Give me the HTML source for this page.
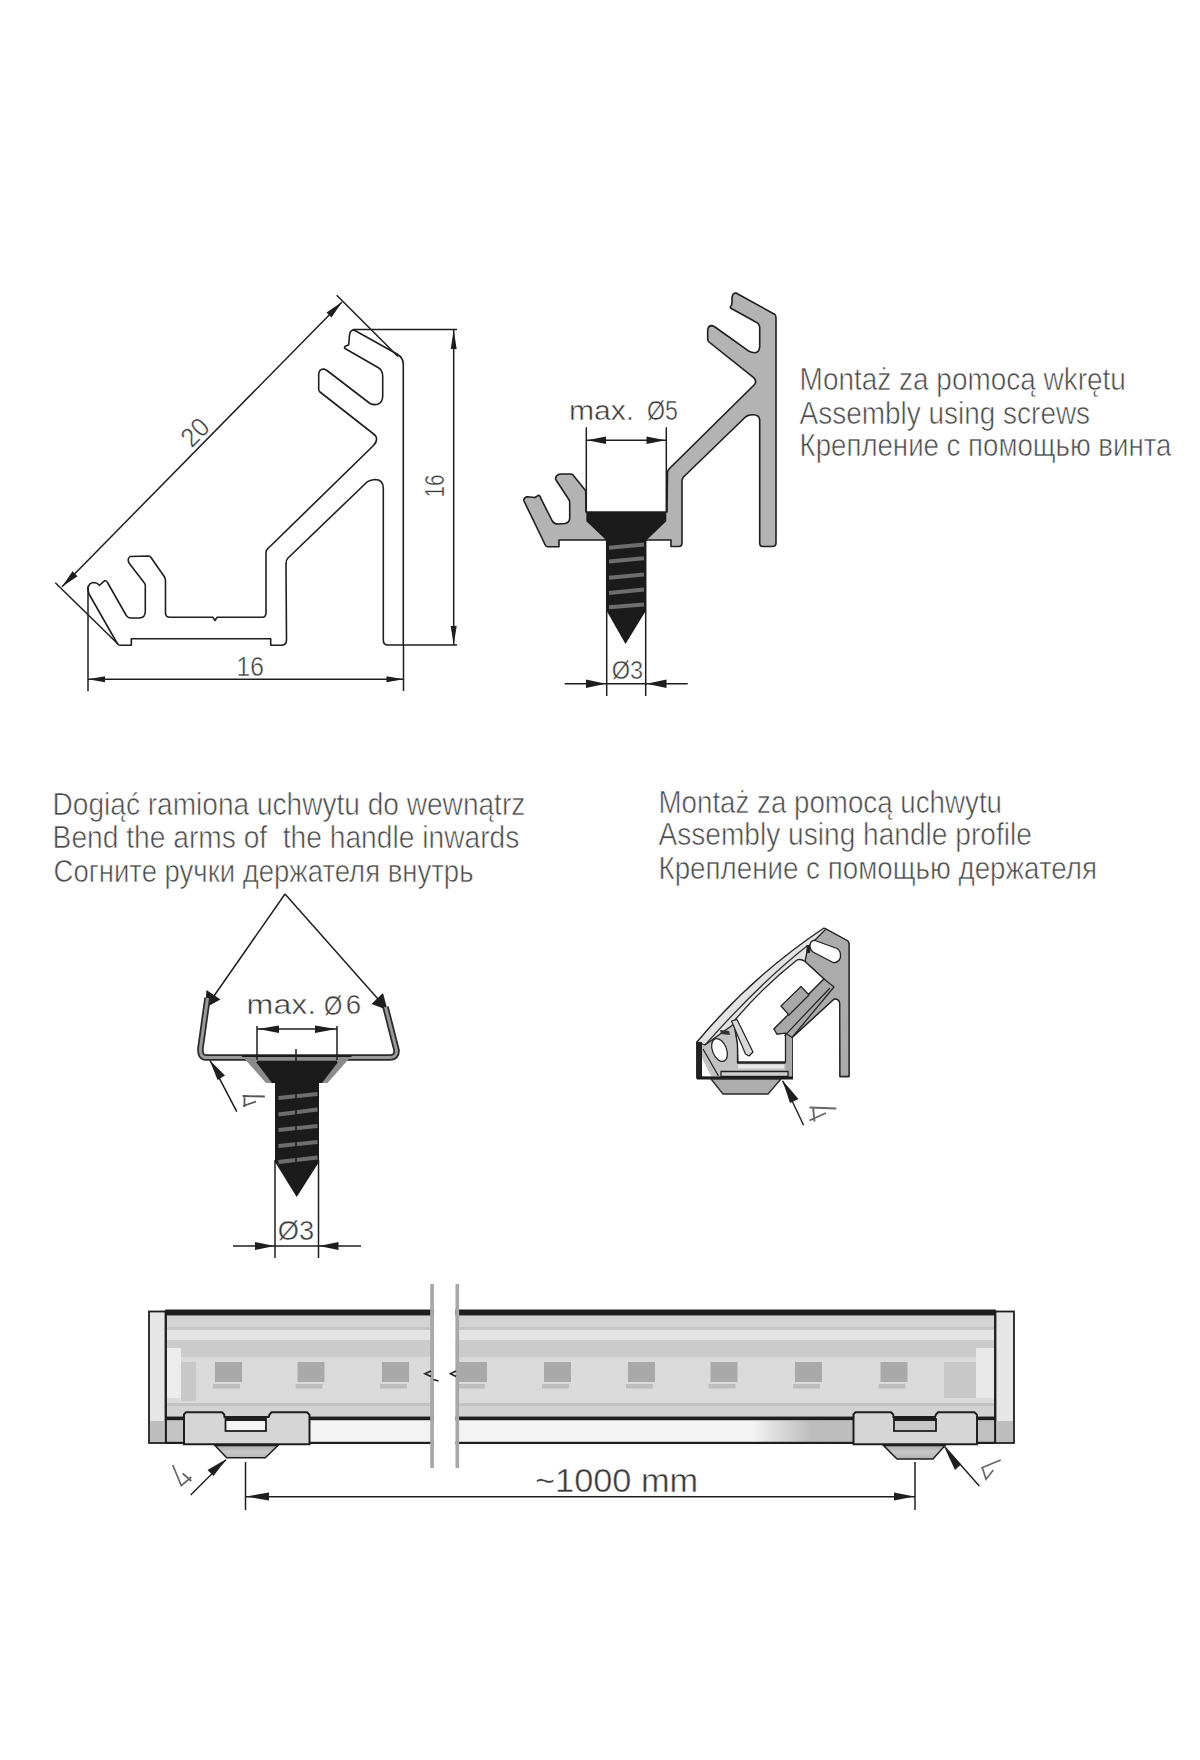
<!DOCTYPE html>
<html><head><meta charset="utf-8">
<style>
html,body{margin:0;padding:0;background:#fff;width:1200px;height:1760px;overflow:hidden}
svg{display:block}
.t{font-family:"Liberation Sans",sans-serif;fill:#4a4a4a;stroke:#fff;stroke-width:0.6px}
.ln{fill:none;stroke:#1e1e1e;stroke-width:1.6;stroke-linejoin:round;stroke-linecap:round}
.d{font-family:"Liberation Sans",sans-serif;fill:#3a3a3a;stroke:#fff;stroke-width:0.45px}
.dm{fill:none;stroke:#1e1e1e;stroke-width:1.5}
</style></head><body>
<svg width="1200" height="1760" viewBox="0 0 1200 1760">

<!-- DRAWING 1 -->
<g>
<path class="ln" d="M354,330 L397,354 Q403.3,358 403.3,364 L403.3,645 L388,645 Q383.3,645 383.3,640 L383.3,488 Q383,479.5 375,479.5 Q369,480 366,483 L288,558 Q286,560 286,564 L286.5,640 Q286.5,645.3 281,645.3 L270.7,645.3 L270.7,638.7 L131.3,638.7 L131.3,645.3 L120,645.3 Q118,645.3 117,643 L89,594 Q88,591 88,588 Q89,582.5 94,582.5 Q98,583 99.3,585.5 L104.7,580.7 Q106.5,580.5 107.5,582.5 L126,615 Q127.5,618 131,618 L139.3,618 Q145.3,618 145.3,611 L145.3,585 Q145,583.5 144,582.5 L129,563 Q127,559 130,556.5 L148.7,556 Q150,556 151,557.5 L164.7,577.3 Q165.5,579 165.5,581 L165.5,613 Q165.5,617.3 170,617.3 L213,617.3 L215,620.5 L217,617.3 L262.5,617.3 Q266,617.3 266,612 L266,552 Q266,550 268,548.5 L373,446 Q378,441 376,436.5 Q375,435 373,433.5 L320,392 Q318.7,391 318.7,389 L318.7,374 Q319,369 324,369 L327,370.5 L370,403.5 Q373,405 377,404.5 Q382.7,403 382.7,396 L382.7,376 Q382.5,370 378,367.5 L345,348.5 Q344,347.5 345,346.5 L348.7,344.7 L349.5,335 Q350,330 354,330 Z"/>
<!-- dim 20 -->
<line class="dm" x1="336.7" y1="295.3" x2="398" y2="356.5"/>
<line class="dm" x1="55.3" y1="582.7" x2="118" y2="644"/>
<line class="dm" x1="342" y1="302" x2="62" y2="586.7"/>
<path d="M342,302 L326.5,312.5 L331.5,317.5 Z M62,586.7 L77.5,576.2 L72.5,571.2 Z" fill="#1e1e1e"/>
<text class="d" font-size="27" transform="translate(194.5,431.7) rotate(-45)" text-anchor="middle" y="10" textLength="28" lengthAdjust="spacingAndGlyphs">20</text>
<!-- dim 16 vertical -->
<line class="dm" x1="352.7" y1="329.6" x2="457" y2="329.6"/>
<line class="dm" x1="403.3" y1="645" x2="457" y2="645"/>
<line class="dm" x1="453.7" y1="330" x2="453.7" y2="645"/>
<path d="M453.7,330 L450.7,349 L456.7,349 Z M453.7,645 L450.7,626 L456.7,626 Z" fill="#1e1e1e"/>
<text class="d" font-size="27" transform="translate(433.7,486) rotate(-90)" text-anchor="middle" y="10" textLength="23" lengthAdjust="spacingAndGlyphs">16</text>
<!-- dim 16 horizontal -->
<line class="dm" x1="88" y1="586" x2="88" y2="691.3"/>
<line class="dm" x1="403.5" y1="645" x2="403.5" y2="691"/>
<line class="dm" x1="88" y1="679.3" x2="403.5" y2="679.3"/>
<path d="M88,679.3 L105,676.3 L105,682.3 Z M403.5,679.3 L386.5,676.3 L386.5,682.3 Z" fill="#1e1e1e"/>
<text class="d" font-size="27" x="236.6" y="676" textLength="27.3" lengthAdjust="spacingAndGlyphs">16</text>
</g>

<!-- DRAWING 2 -->
<g>
<path fill="#b3b3b3" stroke="#1e1e1e" stroke-width="1.6" stroke-linejoin="round" d="M736,293 L775,314.5 Q776,315.5 776,318 L776,543 Q776,546.5 772,546.5 L763,546.5 Q759.7,546.5 759.7,543 L759.7,420 Q759.5,414.7 753,414.7 Q748,414.7 745.7,416.8 L683.5,477 Q682,479 682,481 L682,543 Q682,546.5 678.5,546.5 L671,546.5 L671,540 L559,540 L559,546.7 L547.5,546.7 Q546,546.5 545.5,545.5 L524,501 Q523,498 527,496.7 L535,497.5 L538.3,495.3 Q540,495 541,498.7 L552.3,521 Q554,524 558,524 L565,523.5 Q569.7,522.5 569.7,518 L569.7,502 Q569.5,500.5 568.5,499 L556,480 Q555,478 556.5,476 Q558,474 561,474 L571,474 Q572,474 573,475 L585.7,490.7 L586,512 L667,512 L667.5,472 Q668,470 669.5,468.5 L754.3,384.7 Q757,382 754.3,378.2 L709,342 Q707.7,341 707.7,339 L707.7,330 Q708,325.6 712,325.6 Q713.5,325.8 715,327 L748.8,351.1 Q751,352.7 755.3,352.7 Q759.7,352 759.7,346 L759.7,328 Q759.7,323.5 755.3,321.8 L730.5,308 L730.4,306.7 Q732,305 732,303 L732,297.5 Q732.5,293 736,293 Z"/>
<!-- screw -->
<path fill="#1b1b1b" d="M586.3,512 L666.3,512 L666.3,521.3 L648.3,538.5 L645.7,541 L645.7,611 L625.5,644 L606.7,611 L606.7,541 L604.5,538.5 L586.3,521.3 Z"/>
<g stroke="#6e6e6e" stroke-width="4">
<line x1="609" y1="547.8" x2="644" y2="544.5"/>
<line x1="609" y1="561.6" x2="644" y2="558.3"/>
<line x1="609" y1="577.8" x2="644" y2="574.4"/>
<line x1="609" y1="593" x2="644" y2="589.6"/>
<line x1="609" y1="607.2" x2="644" y2="604.4"/>
</g>
<!-- dim max 5 -->
<line class="dm" x1="586.3" y1="427.3" x2="586.3" y2="512"/>
<line class="dm" x1="666.3" y1="427.3" x2="666.3" y2="512"/>
<line class="dm" x1="586.3" y1="440.3" x2="666.3" y2="440.3"/>
<path d="M587,440.3 L606,436.5 L606,444 Z M665.5,440.3 L646.5,436.5 L646.5,444 Z" fill="#1e1e1e"/>
<text class="d" font-size="27" x="568.9" y="419.5" textLength="65.3" lengthAdjust="spacingAndGlyphs">max.</text><text class="d" font-size="27" x="646.9" y="419.5" textLength="30.9" lengthAdjust="spacingAndGlyphs">Ø5</text>
<!-- dim 3 -->
<line class="dm" x1="606.7" y1="540" x2="606.7" y2="696"/>
<line class="dm" x1="645.7" y1="540" x2="645.7" y2="696"/>
<line class="dm" x1="564.7" y1="683.7" x2="687.7" y2="683.7"/>
<path d="M606,683.7 L586,679.5 L586,688 Z M646.5,683.7 L666.5,679.5 L666.5,688 Z" fill="#1e1e1e"/>
<text class="d" font-size="26" x="611.7" y="678.5" textLength="31.4" lengthAdjust="spacingAndGlyphs">Ø3</text>
</g>

<!-- DRAWING 3 -->
<g>
<!-- apex dim lines -->
<line class="dm" x1="285" y1="894" x2="207" y2="1006" stroke-width="1.3"/>
<line class="dm" x1="285" y1="894" x2="386" y2="1008" stroke-width="1.3"/>
<path d="M205,1008 L206.5,990 L220.5,999.5 Z M387.5,1010 L383,993 L371.5,1004 Z" fill="#1e1e1e"/>
<!-- handle arms -->
<path d="M207.5,998 L200.5,1048 Q199.7,1057.5 206,1057.5 L390,1057.5 Q397,1057.5 396.5,1050 L385.5,1007" fill="none" stroke="#2a2a2a" stroke-width="6.5" stroke-linejoin="round"/>
<path d="M207.5,998 L200.5,1048 Q199.7,1057.5 206,1057.5 L390,1057.5 Q397,1057.5 396.5,1050 L385.5,1007" fill="none" stroke="#9a9a9a" stroke-width="3" stroke-linejoin="round"/>
<!-- screw head -->
<path d="M242,1056 L351.5,1056 L327.5,1083 L266,1083 Z" fill="#8c8c8c"/>
<path d="M256,1062 L338,1062 L322,1083 L272,1083 Z" fill="#1b1b1b"/>
<line x1="242" y1="1056" x2="351.5" y2="1056" stroke="#1b1b1b" stroke-width="2"/>
<line x1="257" y1="1062" x2="337" y2="1062" stroke="#1b1b1b" stroke-width="2.5"/>
<path d="M275,1082 L319,1082 L319,1162 L296.7,1197 L275,1162 Z" fill="#1b1b1b"/>
<g stroke="#6e6e6e" stroke-width="4">
<line x1="278.5" y1="1098" x2="317.5" y2="1094"/>
<line x1="278.5" y1="1114.5" x2="317.5" y2="1109.5"/>
<line x1="278.5" y1="1130" x2="317.5" y2="1126"/>
<line x1="278.5" y1="1146" x2="317.5" y2="1142"/>
<line x1="278.5" y1="1162" x2="317.5" y2="1157.5"/>
</g>
<line x1="296" y1="1049" x2="296" y2="1170" stroke="#1b1b1b" stroke-width="1.5"/>
<!-- dim max 6 -->
<line class="dm" x1="257" y1="1026" x2="257" y2="1060"/>
<line class="dm" x1="337" y1="1026" x2="337" y2="1060"/>
<line class="dm" x1="257" y1="1029" x2="337" y2="1029"/>
<path d="M258,1029 L279,1025.5 L279,1033 Z M336,1029 L315,1025.5 L315,1033 Z" fill="#1e1e1e"/>
<text class="d" font-size="28" x="246.6" y="1014" textLength="69.7" lengthAdjust="spacingAndGlyphs">max.</text><text class="d" font-size="28" x="323.9" y="1014.5" textLength="18.3" lengthAdjust="spacingAndGlyphs">Ø</text><text class="d" font-size="28" x="345.8" y="1014" textLength="15.4" lengthAdjust="spacingAndGlyphs">6</text>
<!-- dim 3 -->
<line class="dm" x1="275" y1="1160" x2="275" y2="1258"/>
<line class="dm" x1="318.5" y1="1160" x2="318.5" y2="1258"/>
<line class="dm" x1="233" y1="1246" x2="361" y2="1246"/>
<path d="M274.5,1246 L255,1242 L255,1250 Z M319,1246 L338.5,1242 L338.5,1250 Z" fill="#1e1e1e"/>
<text class="d" font-size="28" x="277.7" y="1240" textLength="36.4" lengthAdjust="spacingAndGlyphs">Ø3</text>
<!-- arrow 4 -->
<line class="dm" x1="210" y1="1060.3" x2="236.8" y2="1111.6" stroke-width="1.4"/>
<path d="M210,1060.5 L217.5,1080 L225,1075.5 Z" fill="#1e1e1e"/>
<path d="M242.6,1096 L264.8,1096.5 M244.5,1095 L244.5,1107 M243,1106 L256,1101.5" stroke="#555" stroke-width="1.8" fill="none"/>
</g>

<!-- DRAWING 4 -->
<g stroke-linejoin="round">
<!-- silhouette light -->
<path d="M824,928 L847.5,940.8 Q849,942 849,944 L849,1076.5 L840,1076.5 L839.75,1003 Q839,998.5 834,999 L792,1037.5 L792,1078 L697,1078 L697,1042 Q752,976 824,928 Z" fill="#e3e3e3" stroke="#222" stroke-width="1.4"/>
<!-- junction gray -->
<path d="M826,929 L847.5,940.8 Q849,942 849,944 L849,1076.5 L840,1076.5 L839.75,1003 Q839,998.5 834,999 L792,1037.5 L785,1031 L824,979 L805,961.5 L808,947 Z" fill="#ababab" stroke="#222" stroke-width="1.3"/>
<!-- diffuser lines -->
<path d="M807,946 Q760,983 705,1045" fill="none" stroke="#333" stroke-width="1.3"/>
<!-- bottom base gray -->
<path d="M697,1042 L705,1045 L734,1024 L737.5,1044 L737.5,1063 L785.5,1063 L785.5,1031 L792,1037.5 L792,1078 L697,1078 Z" fill="#c2c2c2" stroke="#222" stroke-width="1.3"/>
<rect x="738" y="1064.5" width="46" height="4" fill="#e8e8e8"/>
<rect x="785.5" y="1033" width="6.5" height="44" fill="#a8a8a8"/>
<!-- top slot -->
<path d="M815,940.5 L837,948.5 Q841,951 840.5,957 Q839,963 833,962.5 L813,952 Q809.5,949 810,945 Q811,940 815,940.5 Z" fill="#fff" stroke="#222" stroke-width="1.3"/>
<rect x="806.5" y="945" width="3.5" height="8" fill="#222"/>
<!-- main channel -->
<path d="M797,960 Q801,958.5 805,961.5 L824,979 L774,1029 L777,1034 L785.5,1033 L785.5,1062 L738,1062 L737.5,1044 L734,1021 Q765,985 797,960 Z" fill="#fff" stroke="#222" stroke-width="1.3"/>
<!-- carrier strips -->
<path d="M824,979 L834,987 L792,1037.5 L785.5,1033 L777,1034 L774,1029 Z" fill="#a8a8a8" stroke="#222" stroke-width="1.2"/>
<line x1="830" y1="988" x2="784.5" y2="1035.8" stroke="#222" stroke-width="1.2"/>
<path d="M801,986.5 L809,995 L789,1015 L781,1006 Z" fill="#a8a8a8" stroke="#222" stroke-width="1.2"/>
<!-- inner arm -->
<path d="M731.5,1021 L737,1019.5 L753,1052 L749,1056 L745.5,1054 Z" fill="#d8d8d8" stroke="#222" stroke-width="1.2"/>
<!-- left hook slot -->
<path d="M703,1049 L718.5,1076" stroke="#222" stroke-width="1.2" fill="none"/>
<ellipse cx="719.5" cy="1050" rx="7" ry="12" transform="rotate(-22 719.5 1050)" fill="#fff" stroke="#222" stroke-width="1.3"/>
<path d="M720,1030 L729,1031 L730,1035 L721,1034 Z" fill="#333"/>
<rect x="696.5" y="1042" width="5.5" height="36" fill="#222"/>
<path d="M702,1058 L711,1076 L702,1076 Z" fill="#fff"/>
<!-- base bar -->
<rect x="721" y="1071.5" width="67" height="5" fill="#d0d0d0" stroke="#222" stroke-width="1.3"/>
<line x1="697" y1="1078" x2="793" y2="1078" stroke="#1b1b1b" stroke-width="3"/>
<!-- trapezoid -->
<path d="M711,1079 L781,1079 L768,1094 L723,1094 Z" fill="#adadad" stroke="#2a2a2a" stroke-width="1.3"/>
<!-- arrow 4 -->
<line x1="782.6" y1="1080.8" x2="803.6" y2="1125.2" stroke="#1e1e1e" stroke-width="1.4"/>
<path d="M782.6,1080.5 L790,1103 L798.5,1099 Z" fill="#1e1e1e"/>
<path d="M809.4,1107.5 L836.3,1108.5 M813,1107.5 L814.5,1121.5 M809.4,1120.5 L826,1113" stroke="#666" stroke-width="1.9" fill="none"/>
</g>
<!-- DRAWING 5 -->
<defs>
<linearGradient id="strip" x1="0" x2="1" y1="0" y2="0" gradientUnits="userSpaceOnUse" x1="165" x2="995">
</linearGradient>
<linearGradient id="sg" gradientUnits="userSpaceOnUse" x1="165" y1="0" x2="995" y2="0">
<stop offset="0" stop-color="#c4c4c4"/>
<stop offset="0.022" stop-color="#c4c4c4"/>
<stop offset="0.03" stop-color="#f3f3f3"/>
<stop offset="0.707" stop-color="#f3f3f3"/>
<stop offset="0.778" stop-color="#bdbdbd"/>
<stop offset="1" stop-color="#c0c0c0"/>
</linearGradient>
<linearGradient id="tg" gradientUnits="userSpaceOnUse" x1="0" y1="1445" x2="0" y2="1459">
<stop offset="0" stop-color="#a8a8a8"/>
<stop offset="0.5" stop-color="#c8c8c8"/>
<stop offset="1" stop-color="#b0b0b0"/>
</linearGradient>
<clipPath id="bodyclip"><rect x="165.5" y="1300" width="268.5" height="150"/><rect x="455.5" y="1300" width="540" height="150"/></clipPath>
</defs>
<g>
<g clip-path="url(#bodyclip)">
<rect x="165" y="1315.5" width="831" height="11.5" fill="#d3d3d3"/>
<rect x="165" y="1327" width="831" height="3" fill="#c6c6c6"/>
<rect x="165" y="1330" width="831" height="10" fill="#e3e3e3"/>
<rect x="165" y="1340" width="831" height="17" fill="#cbcbcb"/>
<rect x="165" y="1357" width="831" height="46" fill="#dadada"/>
<rect x="165" y="1403" width="831" height="3" fill="#c2c2c2"/>
<rect x="165" y="1406" width="831" height="10.5" fill="#d2d2d2"/>
<rect x="167" y="1348" width="14" height="50" fill="#ececec"/>
<rect x="181" y="1362" width="15" height="39" fill="#c8c8c8"/>
<rect x="976" y="1348" width="19" height="50" fill="#e8e8e8"/>
<rect x="944" y="1362" width="32" height="36" fill="#c8c8c8"/>
<rect x="215" y="1362" width="27" height="20" fill="#a9a9a9"/><rect x="213" y="1384" width="27" height="4.5" fill="#bdbdbd"/>
<rect x="297.5" y="1362" width="27" height="20" fill="#a9a9a9"/><rect x="295.5" y="1384" width="27" height="4.5" fill="#bdbdbd"/>
<rect x="382" y="1362" width="27" height="20" fill="#a9a9a9"/><rect x="380" y="1384" width="27" height="4.5" fill="#bdbdbd"/>
<rect x="544" y="1362" width="27" height="20" fill="#a9a9a9"/><rect x="542" y="1384" width="27" height="4.5" fill="#bdbdbd"/>
<rect x="628" y="1362" width="27" height="20" fill="#a9a9a9"/><rect x="626" y="1384" width="27" height="4.5" fill="#bdbdbd"/>
<rect x="710.5" y="1362" width="27" height="20" fill="#a9a9a9"/><rect x="708.5" y="1384" width="27" height="4.5" fill="#bdbdbd"/>
<rect x="795" y="1362" width="27" height="20" fill="#a9a9a9"/><rect x="793" y="1384" width="27" height="4.5" fill="#bdbdbd"/>
<rect x="880.5" y="1362" width="27" height="20" fill="#a9a9a9"/><rect x="878.5" y="1384" width="27" height="4.5" fill="#bdbdbd"/>
<rect x="459" y="1362" width="28" height="20" fill="#a9a9a9"/><rect x="457" y="1384" width="28" height="4.5" fill="#bdbdbd"/>

<rect x="165" y="1309.5" width="831" height="6" fill="#1e1e1e"/>
<rect x="165" y="1416.5" width="831" height="4" fill="#1e1e1e"/>
<rect x="165" y="1420.5" width="831" height="21.5" fill="url(#sg)"/>
<rect x="165" y="1441.8" width="831" height="2.2" fill="#1e1e1e"/>
</g>
<line x1="166" y1="1310" x2="166" y2="1443" stroke="#1e1e1e" stroke-width="1.8"/>
<line x1="995" y1="1310" x2="995" y2="1443" stroke="#1e1e1e" stroke-width="1.8"/>
<!-- end caps -->
<rect x="149" y="1311.5" width="16.5" height="131.5" fill="#e6e6e6" stroke="#1e1e1e" stroke-width="1.8"/>
<rect x="150" y="1421" width="14.5" height="21" fill="#bdbdbd"/>
<rect x="995.5" y="1311.5" width="18.5" height="131.5" fill="#e6e6e6" stroke="#1e1e1e" stroke-width="1.8"/>
<rect x="996.5" y="1421" width="16.5" height="21" fill="#bdbdbd"/>
<!-- break lines -->
<rect x="430.2" y="1284" width="3.7" height="184" fill="#a8a8a8"/>
<rect x="455.5" y="1284" width="3.6" height="184" fill="#a8a8a8"/>
<path d="M431,1371 L425,1373.8 L431,1376.5 M433.5,1379.5 L438.5,1381 M456,1371 L450.5,1373.8 L456,1376.5" stroke="#222" stroke-width="1.7" fill="none"/>
<!-- clips -->
<path d="M184,1444.3 L184,1414.3 L186,1412.3 L222,1412.3 L224.2,1414.5 L224.5,1417 L268.7,1417 L269.5,1414.5 L271.5,1412.3 L307,1412.3 L309.5,1414.8 L309.5,1444.3 Z" fill="#d6d6d6" stroke="#1e1e1e" stroke-width="2"/>
<rect x="225.5" y="1419" width="40.5" height="12" fill="#f4f4f4" stroke="#1e1e1e" stroke-width="1.8"/>
<rect x="225.5" y="1417.5" width="40.5" height="3.5" fill="#1e1e1e"/>
<path d="M215,1445.5 L278,1445.5 L265.2,1457.8 L226.7,1457.8 Z" fill="url(#tg)" stroke="#1e1e1e" stroke-width="1.5"/>
<path d="M853.5,1444.3 L853.5,1414.3 L855.5,1412.3 L891,1412.3 L893.2,1414.5 L893.5,1417 L935,1417 L936,1414.5 L938,1412.3 L974.5,1412.3 L977,1414.8 L977,1444.3 Z" fill="#d6d6d6" stroke="#1e1e1e" stroke-width="2"/>
<rect x="894" y="1419" width="42" height="12" fill="#c8c8c8" stroke="#1e1e1e" stroke-width="1.8"/>
<rect x="894" y="1417.5" width="42" height="3.5" fill="#1e1e1e"/>
<path d="M883.5,1445.5 L945,1445.5 L933,1459 L897,1459 Z" fill="url(#tg)" stroke="#1e1e1e" stroke-width="1.5"/>
<!-- dimension ~1000 -->
<line class="dm" x1="245.5" y1="1462" x2="245.5" y2="1510"/>
<line class="dm" x1="915" y1="1462" x2="915" y2="1510"/>
<line class="dm" x1="245.5" y1="1496.7" x2="915" y2="1496.7" stroke-width="2"/>
<path d="M246,1496.5 L269,1492.5 L269,1500.5 Z M914.5,1496.5 L894,1492.5 L894,1500.5 Z" fill="#1e1e1e"/>
<text class="d" font-size="34" x="535" y="1491.5" textLength="163.1" lengthAdjust="spacingAndGlyphs">~1000 mm</text>
<!-- arrows 4 -->
<line x1="190.7" y1="1495" x2="226" y2="1459.7" stroke="#1e1e1e" stroke-width="1.4"/>
<path d="M226.5,1459 L207.5,1470 L213.5,1476 Z" fill="#1e1e1e"/>
<path d="M172.7,1465 L181.3,1485.7 L191.3,1477 M182.7,1473.5 L191.3,1481" stroke="#666" stroke-width="1.7" fill="none"/>
<line x1="944.7" y1="1446.7" x2="979.3" y2="1486" stroke="#1e1e1e" stroke-width="1.4"/>
<path d="M944.5,1447.5 L955,1470 L961,1464.5 Z" fill="#1e1e1e"/>
<path d="M981.3,1468 L1000.7,1460 M982.5,1468 L986,1479.3 L993.3,1470" stroke="#666" stroke-width="1.7" fill="none"/>
</g>
<!-- TEXT BLOCKS -->
<g class="t" font-size="31">
<text x="799.6" y="390.3" textLength="326.3" lengthAdjust="spacingAndGlyphs">Montaż za pomocą wkrętu</text>
<text x="799.6" y="424.3" textLength="290.5" lengthAdjust="spacingAndGlyphs">Assembly using screws</text>
<text x="799.6" y="456.2" textLength="371.8" lengthAdjust="spacingAndGlyphs">Крепление с помощью винта</text>
<text x="52.6" y="815.2" textLength="472.7" lengthAdjust="spacingAndGlyphs">Dogiąć ramiona uchwytu do wewnątrz</text>
<text x="52.6" y="847.5" textLength="466.7" lengthAdjust="spacingAndGlyphs">Bend the arms of&#160; the handle inwards</text>
<text x="53.6" y="881.5" textLength="419.9" lengthAdjust="spacingAndGlyphs">Согните ручки держателя внутрь</text>
<text x="658.5" y="813" textLength="343.5" lengthAdjust="spacingAndGlyphs">Montaż za pomocą uchwytu</text>
<text x="658.5" y="844.8" textLength="373.3" lengthAdjust="spacingAndGlyphs">Assembly using handle profile</text>
<text x="658.5" y="879" textLength="438.5" lengthAdjust="spacingAndGlyphs">Крепление с помощью держателя</text>
</g>
</svg>
</body></html>
